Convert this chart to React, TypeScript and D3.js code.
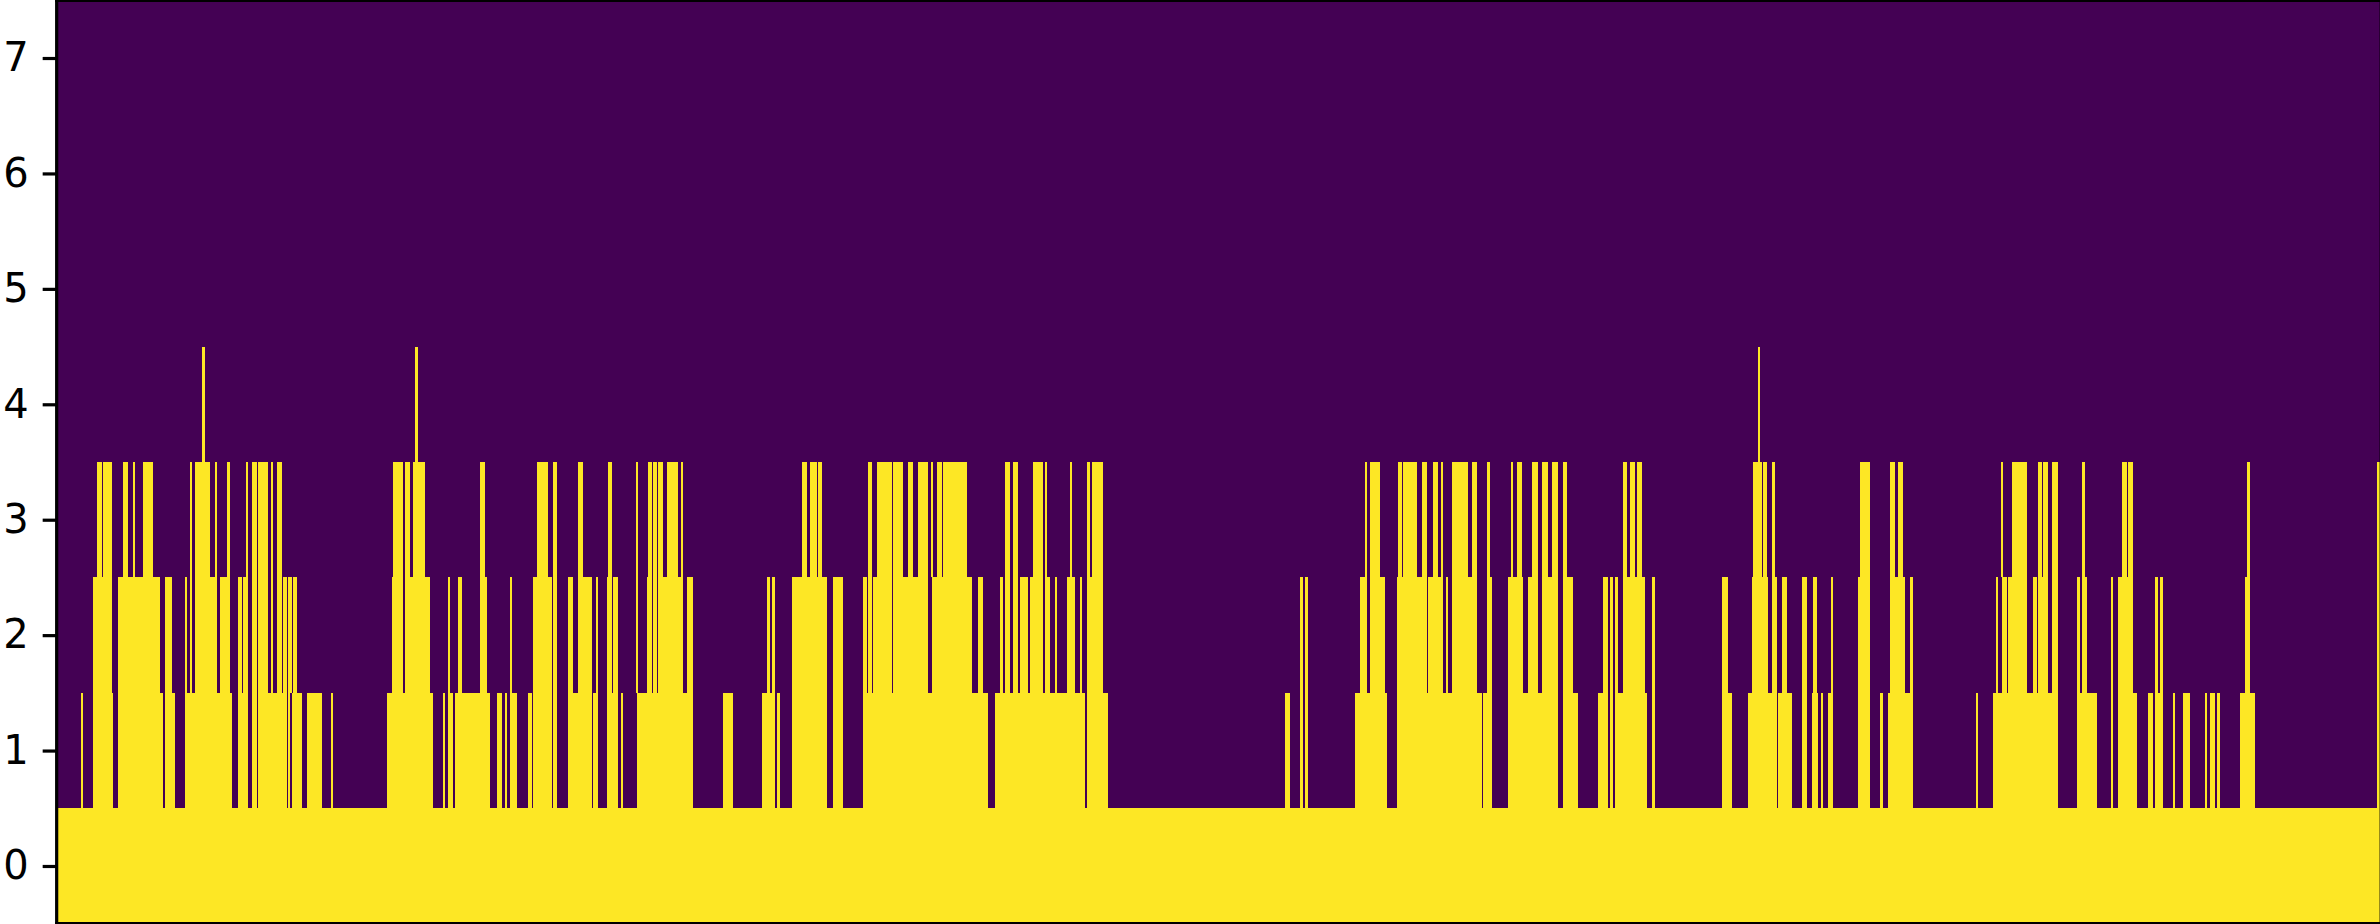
import * as d3 from 'd3';
import React, { useEffect, useRef } from 'react';

const WIDTH = 2380;
const HEIGHT = 924;

// number of heatmap columns
const COLUMN_COUNT = 1394;
const ROW_TICKS = [0, 1, 2, 3, 4, 5, 6, 7];

const VIRIDIS_LOW = '#440154';
const VIRIDIS_HIGH = '#fde725';

// lit column runs per row, [first column, end column)
const row0: [number, number][] = [[0, COLUMN_COUNT]];

const row1: [number, number][] = [
  [15, 16], [22, 34], [37, 64], [65, 71], [77, 105], [109, 115], [117, 120], [121, 138], [139, 140], [141, 147],
  [150, 159], [165, 166], [198, 226], [232, 233], [235, 238], [239, 260], [264, 267], [269, 270], [272, 276],
  [283, 285], [286, 297], [298, 300], [307, 321], [322, 325], [330, 337], [339, 340], [348, 382], [400, 406],
  [423, 431], [432, 434], [441, 462], [466, 472], [484, 559], [563, 617], [618, 631], [737, 740], [746, 748],
  [749, 751], [779, 798], [804, 855], [856, 861], [871, 901], [904, 913], [925, 931], [932, 934], [935, 954],
  [957, 959], [999, 1005], [1015, 1032], [1033, 1041], [1047, 1050], [1053, 1057], [1059, 1060], [1063, 1066],
  [1081, 1088], [1094, 1096], [1099, 1114], [1152, 1153], [1162, 1201], [1212, 1224], [1233, 1234], [1237, 1248],
  [1255, 1258], [1259, 1264], [1270, 1271], [1276, 1280], [1289, 1290], [1292, 1295], [1296, 1298], [1310, 1319],
  [1392, 1394],
];

const row2: [number, number][] = [
  [22, 33], [37, 62], [65, 69], [77, 78], [80, 81], [83, 96], [98, 104], [109, 111], [112, 115], [117, 120],
  [121, 127], [129, 130], [132, 135], [136, 138], [139, 141], [142, 144], [201, 208], [209, 224], [235, 236],
  [241, 243], [254, 258], [272, 273], [286, 297], [298, 300], [307, 310], [313, 321], [324, 325], [330, 333],
  [334, 337], [348, 349], [354, 357], [358, 360], [361, 376], [378, 382], [426, 428], [429, 431], [441, 462],
  [466, 472], [484, 486], [487, 489], [490, 501], [502, 523], [525, 549], [553, 556], [566, 568], [569, 572],
  [574, 577], [578, 583], [584, 592], [593, 596], [599, 600], [606, 611], [614, 615], [618, 628], [746, 748],
  [749, 751], [782, 786], [788, 797], [804, 822], [823, 832], [834, 835], [837, 852], [858, 861], [871, 880],
  [883, 889], [891, 901], [904, 910], [928, 931], [932, 934], [935, 937], [940, 953], [957, 959], [999, 1003],
  [1017, 1027], [1029, 1032], [1035, 1038], [1047, 1050], [1054, 1056], [1065, 1066], [1081, 1088], [1100, 1109],
  [1112, 1114], [1164, 1165], [1167, 1170], [1171, 1182], [1186, 1188], [1189, 1195], [1197, 1201], [1212, 1214],
  [1215, 1218], [1233, 1234], [1237, 1246], [1259, 1261], [1262, 1264], [1313, 1316], [1392, 1394],
];

const row3: [number, number][] = [
  [24, 27], [28, 33], [40, 43], [46, 47], [52, 58], [80, 81], [83, 92], [95, 96], [102, 104], [114, 115],
  [117, 120], [121, 127], [129, 130], [132, 135], [202, 208], [209, 212], [214, 221], [254, 257], [288, 295],
  [298, 300], [313, 316], [331, 333], [348, 349], [355, 357], [358, 360], [361, 364], [366, 373], [375, 376],
  [447, 450], [452, 456], [457, 459], [487, 489], [492, 501], [502, 508], [511, 514], [517, 523], [525, 526],
  [528, 531], [532, 546], [569, 572], [574, 577], [586, 592], [593, 594], [608, 609], [618, 620], [621, 628],
  [785, 786], [788, 794], [805, 807], [808, 816], [819, 822], [826, 829], [831, 832], [837, 847], [849, 852],
  [858, 860], [873, 874], [876, 879], [885, 889], [891, 895], [897, 901], [904, 906], [940, 942], [944, 947],
  [948, 951], [1018, 1023], [1024, 1026], [1029, 1031], [1082, 1088], [1100, 1103], [1105, 1108], [1167, 1168],
  [1173, 1182], [1189, 1191], [1192, 1195], [1197, 1201], [1215, 1217], [1239, 1242], [1243, 1246], [1314, 1316],
  [1392, 1394],
];

const row4: [number, number][] = [[87, 89], [215, 217], [1021, 1022]];

const rows = [row0, row1, row2, row3, row4];

const App: React.FC = () => {
  const svgRef = useRef<SVGSVGElement>(null);

  useEffect(() => {
    if (!svgRef.current) return;

    const svg = d3.select(svgRef.current);
    svg.selectAll('*').remove();

    const left = 56.67;
    const top = 0.3;
    const bottom = 923.7;

    const xScale = d3.scaleLinear()
      .domain([0, COLUMN_COUNT])
      .range([left, left + COLUMN_COUNT * (5 / 3)]);

    const yScale = d3.scaleLinear()
      .domain([-0.5, 7.5])
      .range([bottom, top]);

    // Snap a run to whole pixels, a single column never gets thinner than 2px
    const runX = (d: [number, number]) =>
      d[1] - d[0] === 1 ? Math.floor(xScale(d[0])) : Math.round(xScale(d[0]));
    const runWidth = (d: [number, number]) =>
      d[1] - d[0] === 1 ? 2 : Math.round(xScale(d[1])) - Math.round(xScale(d[0]));

    // Heatmap background
    svg.append('rect')
      .attr('x', left)
      .attr('y', top)
      .attr('width', WIDTH - left)
      .attr('height', bottom - top)
      .attr('fill', VIRIDIS_LOW);

    // Lit cells, one group per row
    rows.forEach((runs, row) => {
      svg.append('g')
        .attr('class', `row-${row}`)
        .attr('shape-rendering', 'crispEdges')
        .selectAll('rect')
        .data(runs)
        .join('rect')
        .attr('x', runX)
        .attr('width', runWidth)
        .attr('y', yScale(row + 0.5))
        .attr('height', yScale(row - 0.5) - yScale(row + 0.5))
        .attr('fill', VIRIDIS_HIGH);
    });

    // Y axis
    const yAxis = d3.axisLeft(yScale)
      .tickValues(ROW_TICKS)
      .tickFormat(d3.format('d'))
      .tickSize(14)
      .tickPadding(14);

    const axis = svg.append('g')
      .attr('transform', `translate(${left},0)`)
      .call(yAxis);

    axis.select('.domain').remove();
    axis.selectAll('line').attr('stroke', '#000').attr('stroke-width', 3.2);
    axis.selectAll('text')
      .attr('fill', '#000')
      .style('font-family', '"DejaVu Sans"')
      .style('font-size', '40px');

    // Spines, the right one sits almost entirely past the crop
    const spine = svg.append('g')
      .attr('stroke', '#000')
      .attr('stroke-width', 3.2)
      .attr('stroke-linecap', 'square');
    spine.append('line').attr('x1', left).attr('x2', left).attr('y1', top).attr('y2', bottom);
    spine.append('line').attr('x1', left).attr('x2', WIDTH).attr('y1', top).attr('y2', top);
    spine.append('line').attr('x1', left).attr('x2', WIDTH).attr('y1', bottom).attr('y2', bottom);
    spine.append('line').attr('x1', WIDTH + 1.2).attr('x2', WIDTH + 1.2).attr('y1', top).attr('y2', bottom);
  }, []);

  return (
    <svg
      ref={svgRef}
      width={WIDTH}
      height={HEIGHT}
      style={{ position: 'absolute', left: 0, top: 0, background: '#fff' }}
    />
  );
};

export default App;
